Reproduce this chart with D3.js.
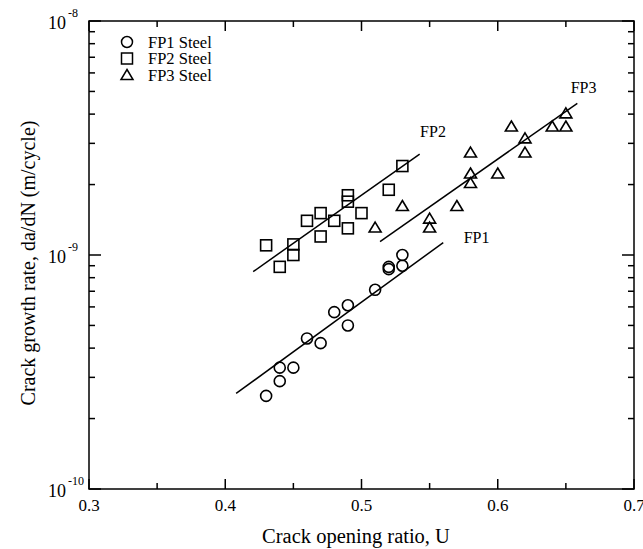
<!DOCTYPE html>
<html><head><meta charset="utf-8">
<script src="https://cdn.jsdelivr.net/npm/d3@7"></script>
<style>
body{margin:0;background:#fff}
text{font-family:"Liberation Serif","Times New Roman",serif;fill:#000}
</style>
</head><body>
<svg id="c" width="643" height="549"></svg>
<script>
// ---- data ----
const fp1U    = [0.43, 0.44, 0.44, 0.45, 0.46, 0.47, 0.48, 0.49, 0.49, 0.51, 0.52, 0.52, 0.53, 0.53];
const fp1Rate = [2.5e-10, 2.89e-10, 3.3e-10, 3.3e-10, 4.4e-10, 4.2e-10, 5.7e-10, 6.1e-10, 5.0e-10, 7.1e-10, 8.7e-10, 8.9e-10, 1.0e-9, 9.0e-10];
const fp2U    = [0.43, 0.44, 0.45, 0.45, 0.46, 0.47, 0.47, 0.48, 0.49, 0.49, 0.49, 0.50, 0.52, 0.53];
const fp2Rate = [1.1e-9, 8.9e-10, 1.11e-9, 1.0e-9, 1.4e-9, 1.51e-9, 1.2e-9, 1.4e-9, 1.8e-9, 1.69e-9, 1.3e-9, 1.51e-9, 1.9e-9, 2.4e-9];
const fp3U    = [0.51, 0.53, 0.55, 0.55, 0.57, 0.58, 0.58, 0.58, 0.60, 0.61, 0.62, 0.62, 0.64, 0.65, 0.65];
const fp3Rate = [1.31e-9, 1.62e-9, 1.43e-9, 1.31e-9, 1.62e-9, 2.74e-9, 2.23e-9, 2.03e-9, 2.23e-9, 3.54e-9, 3.15e-9, 2.74e-9, 3.54e-9, 3.54e-9, 4.03e-9];
const fp1FitU = [0.408, 0.560], fp1FitRate = [2.56e-10, 1.13e-9];
const fp2FitU = [0.4205, 0.5427], fp2FitRate = [8.49e-10, 2.70e-9];
const fp3FitU = [0.5136, 0.6584], fp3FitRate = [1.14e-9, 4.45e-9];
const seriesNames = ["FP1 Steel", "FP2 Steel", "FP3 Steel"];
const fitLabels = ["FP1", "FP2", "FP3"];
const fitLabelU = [0.575, 0.543, 0.6535];
const fitLabelRate = [1.12e-9, 3.19e-9, 4.93e-9];
const xMajorTicks = [0.3, 0.4, 0.5, 0.6, 0.7];
const xMinorTicks = [0.35, 0.45, 0.55, 0.65];
const yExponents = [-10, -9, -8];
const xTitle = "Crack opening ratio, U";
const yTitle = "Crack growth rate, da/dN (m/cycle)";

// ---- chart ----
const L = 89, R = 634, T = 21, B = 489;
const svg = d3.select("#c");
const x = d3.scaleLinear().domain([0.3, 0.7]).range([L, R]);
const y = d3.scaleLog().domain([1e-10, 1e-8]).range([B, T]);

const yMinor = [];
[-10, -9].forEach(e => { for (let m = 2; m <= 9; m++) yMinor.push(m * Math.pow(10, e)); });
const yMajor = yExponents.map(e => Math.pow(10, e));

const g = svg.append("g").attr("stroke", "#000").attr("stroke-width", 1.5);
g.append("rect").attr("x", L).attr("y", T).attr("width", R - L).attr("height", B - T).attr("fill", "none");
const xt = [...xMajorTicks.map(v => ({v, len: 10})), ...xMinorTicks.map(v => ({v, len: 6}))];
g.selectAll(".xb").data(xt).join("line").attr("x1", d => x(d.v)).attr("x2", d => x(d.v)).attr("y1", B).attr("y2", d => B - d.len);
g.selectAll(".xt").data(xt).join("line").attr("x1", d => x(d.v)).attr("x2", d => x(d.v)).attr("y1", T).attr("y2", d => T + d.len);
const yt = [...yMajor.map(v => ({v, len: 12})), ...yMinor.map(v => ({v, len: 6}))];
g.selectAll(".yl").data(yt).join("line").attr("y1", d => y(d.v)).attr("y2", d => y(d.v)).attr("x1", L).attr("x2", d => L + d.len);
g.selectAll(".yr").data(yt).join("line").attr("y1", d => y(d.v)).attr("y2", d => y(d.v)).attr("x1", R).attr("x2", d => R - d.len);

// x tick labels
svg.selectAll(".xl").data(xMajorTicks).join("text")
  .attr("x", d => x(d)).attr("y", B + 22).attr("text-anchor", "middle").attr("font-size", 17)
  .text(d => d.toFixed(1));
// y tick labels
const ylab = svg.selectAll(".ylab").data(yExponents).join("text")
  .attr("x", 48).attr("y", d => y(Math.pow(10, d)) + 8).attr("font-size", 18);
ylab.append("tspan").text("10");
ylab.append("tspan").attr("dy", -12).attr("dx", 2).attr("font-size", 12).text(d => String(d));

// titles
svg.append("text").attr("x", 356).attr("y", 543).attr("text-anchor", "middle").attr("font-size", 20.5).text(xTitle);
svg.append("text").attr("transform", `translate(35,263) rotate(-90)`).attr("text-anchor", "middle").attr("font-size", 20).text(yTitle);

// fit lines
const line = d3.line().x(d => x(d[0])).y(d => y(d[1]));
[[fp1FitU, fp1FitRate], [fp2FitU, fp2FitRate], [fp3FitU, fp3FitRate]].forEach(([u, r]) => {
  svg.append("path").attr("d", line(d3.zip(u, r))).attr("fill", "none").attr("stroke", "#000").attr("stroke-width", 1.5);
});

// markers
function marker(sel, i) {
  if (i === 0) return sel.append("circle").attr("r", 5.5);
  if (i === 1) return sel.append("rect").attr("x", -5.5).attr("y", -5.5).attr("width", 11).attr("height", 11);
  return sel.append("path").attr("d", "M0,-5.5L6,4.5L-6,4.5Z");
}
const sets = [d3.zip(fp1U, fp1Rate), d3.zip(fp2U, fp2Rate), d3.zip(fp3U, fp3Rate)];
sets.forEach((pts, i) => {
  const gg = svg.append("g").attr("fill", "none").attr("stroke", "#000").attr("stroke-width", 1.6);
  gg.selectAll("g").data(pts).join("g")
    .attr("transform", d => `translate(${x(d[0])},${y(d[1])})`)
    .each(function () { marker(d3.select(this), i); });
});

// fit labels
svg.selectAll(".fl").data(fitLabels).join("text")
  .attr("x", (d, i) => x(fitLabelU[i])).attr("y", (d, i) => y(fitLabelRate[i]))
  .attr("font-size", 16).text(d => d);

// legend
const lg = svg.append("g");
seriesNames.forEach((n, i) => {
  const row = lg.append("g").attr("transform", `translate(127,${42 + i * 16.5})`);
  const m = row.append("g").attr("fill", "none").attr("stroke", "#000").attr("stroke-width", 1.5);
  marker(m, i);
  row.append("text").attr("x", 21).attr("y", 5.5).attr("font-size", 16.5).text(n);
});
</script>
</body></html>
